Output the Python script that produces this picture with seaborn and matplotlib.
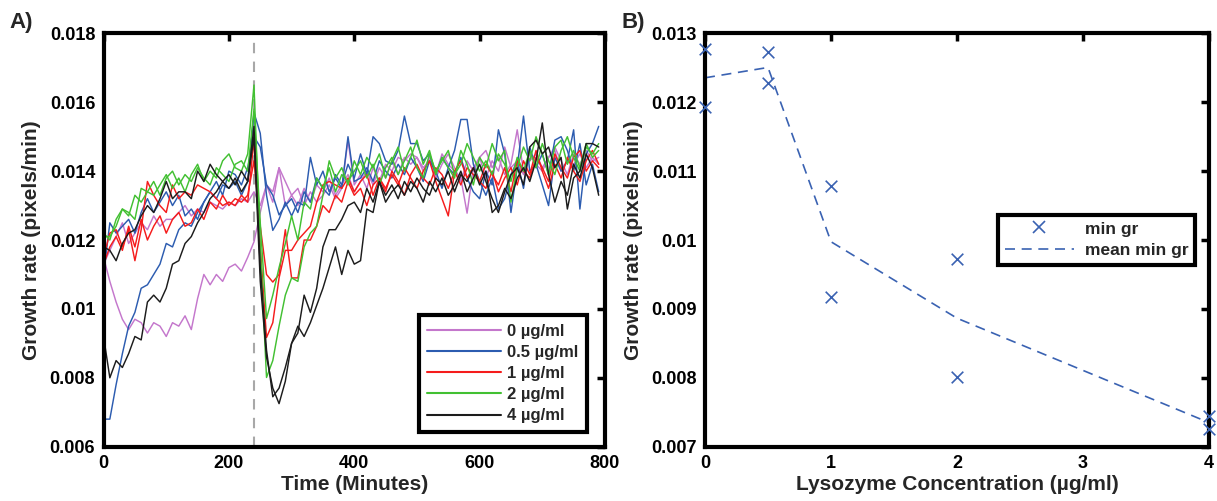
import matplotlib
matplotlib.use("Agg")
import matplotlib.pyplot as plt
import matplotlib.ticker as mticker
from matplotlib.lines import Line2D
import numpy as np
import pandas as pd
import seaborn as sns

# ---------------- data ----------------
time_min = list(range(0, 800, 10))
conc_labels = ["0 µg/ml", "0.5 µg/ml", "1 µg/ml", "2 µg/ml", "4 µg/ml"]
line_colors = ["#c477cc", "#2c5cb0", "#f51c1c", "#42c032", "#1c1c1c"]

rate_0_a = [0.0115,0.0108,0.0102,0.0097,0.0094,0.0097,0.0096,0.0093,0.0096,0.0095,
            0.0092,0.0096,0.0095,0.0098,0.0094,0.0103,0.0110,0.0107,0.0110,0.0108,
            0.0112,0.0113,0.0111,0.0115,0.01195,0.0128,0.0136,0.0131,0.0141,0.0130,
            0.0133,0.0130,0.0135,0.0131,0.0136,0.0134,0.0138,0.0133,0.0136,0.0139,
            0.0134,0.0137,0.0140,0.0136,0.0141,0.0138,0.0143,0.0139,0.0144,0.0142,
            0.0144,0.0140,0.0144,0.0138,0.0142,0.0145,0.0141,0.0137,0.0143,0.0140,
            0.0144,0.0146,0.0141,0.0144,0.0139,0.0142,0.0152,0.0140,0.0143,0.0145,
            0.0141,0.0144,0.0147,0.0143,0.0139,0.0145,0.0142,0.0146,0.0143,0.0144]
rate_0_b = [0.0113,0.0117,0.0121,0.0125,0.0119,0.0122,0.0125,0.0123,0.0127,0.0124,
            0.0126,0.0126,0.0128,0.0130,0.0127,0.0129,0.0128,0.0131,0.0130,0.0129,
            0.0131,0.0130,0.0132,0.0131,0.0134,0.0130,0.0136,0.0134,0.0141,0.0137,
            0.0133,0.0135,0.0130,0.0134,0.0131,0.0133,0.0136,0.0132,0.0135,0.0149,
            0.0136,0.0139,0.0135,0.0141,0.0137,0.0142,0.0140,0.0144,0.0143,0.0145,
            0.0144,0.0141,0.0143,0.0139,0.0145,0.0142,0.0140,0.0138,0.01278,0.0141,
            0.0144,0.0138,0.0143,0.0140,0.0147,0.0141,0.0143,0.0139,0.0145,0.0142,
            0.0140,0.0144,0.0146,0.0140,0.0143,0.0142,0.0145,0.0141,0.0144,0.0142]
rate_05_a = [0.0068,0.0068,0.0078,0.0087,0.0095,0.0099,0.0106,0.0107,0.0110,0.0113,
             0.0119,0.0118,0.0123,0.0125,0.0124,0.0128,0.0131,0.0134,0.0132,0.0136,
             0.0135,0.0137,0.0133,0.0137,0.0157,0.0151,0.0133,0.01228,0.0126,0.0131,
             0.0127,0.0131,0.0130,0.0144,0.0136,0.0140,0.0134,0.0138,0.0135,0.0150,
             0.0137,0.0138,0.0141,0.0137,0.0143,0.0140,0.0138,0.0142,0.0139,0.0144,
             0.0141,0.0137,0.0143,0.0140,0.0135,0.0141,0.0139,0.0144,0.0138,0.0134,
             0.0132,0.0140,0.0136,0.0152,0.0145,0.0128,0.0141,0.0156,0.0140,0.0142,
             0.0136,0.0130,0.0144,0.0140,0.0143,0.0152,0.0129,0.0145,0.0148,0.0153]
rate_05_b = [0.0110,0.0125,0.0122,0.0124,0.0126,0.0122,0.0128,0.0132,0.0128,0.0131,
             0.0134,0.0130,0.0133,0.0127,0.0129,0.0126,0.0131,0.0134,0.0137,0.0133,
             0.0140,0.0139,0.0136,0.0141,0.0150,0.0147,0.0136,0.0133,0.01273,0.0130,
             0.0132,0.0128,0.0134,0.0131,0.0138,0.0135,0.0133,0.0139,0.0136,0.0142,
             0.0138,0.0145,0.0139,0.0150,0.0148,0.0143,0.0142,0.0146,0.0156,0.0148,
             0.0148,0.0143,0.0145,0.0139,0.0144,0.0141,0.0146,0.0155,0.0155,0.0142,
             0.0137,0.0133,0.0138,0.0129,0.0132,0.0139,0.0143,0.0135,0.0147,0.0141,
             0.0145,0.0139,0.0149,0.0150,0.0146,0.0140,0.0148,0.0136,0.0142,0.0134]
rate_1_a = [0.0115,0.0122,0.0123,0.0118,0.0123,0.0114,0.0123,0.0137,0.0133,0.0130,
            0.0128,0.0136,0.0132,0.0134,0.0133,0.0136,0.0135,0.0134,0.0132,0.0130,
            0.0131,0.0130,0.0133,0.0131,0.0149,0.0118,0.00917,0.0096,0.0109,0.0117,
            0.0117,0.0120,0.0122,0.0124,0.0131,0.0136,0.0137,0.0136,0.0135,0.0138,
            0.0134,0.0137,0.0139,0.0133,0.0138,0.0135,0.0139,0.0136,0.0141,0.0138,
            0.0135,0.0140,0.0143,0.0137,0.0132,0.0127,0.0140,0.0136,0.0141,0.0139,
            0.0137,0.0142,0.0139,0.0136,0.0141,0.0134,0.0143,0.0140,0.0138,0.0144,
            0.0141,0.0137,0.0145,0.0141,0.0138,0.0144,0.0146,0.0140,0.0143,0.0141]
rate_1_b = [0.0113,0.0118,0.0121,0.0117,0.0124,0.0118,0.0126,0.0120,0.0124,0.0127,
            0.0122,0.0126,0.0128,0.0124,0.0125,0.0129,0.0126,0.0131,0.0129,0.0133,
            0.0130,0.0132,0.0131,0.0133,0.0143,0.0124,0.0110,0.01078,0.0110,0.0123,
            0.0109,0.0109,0.0120,0.0120,0.0124,0.0130,0.0128,0.0133,0.0131,0.0137,
            0.0133,0.0135,0.0130,0.0136,0.0138,0.0134,0.0140,0.0137,0.0133,0.0139,
            0.0142,0.0138,0.0136,0.0141,0.0139,0.0135,0.0140,0.0143,0.0138,0.0141,
            0.0137,0.0135,0.0140,0.0134,0.0138,0.0141,0.0136,0.0143,0.0139,0.0146,
            0.0140,0.0135,0.0142,0.0138,0.0144,0.0140,0.0137,0.0143,0.0146,0.0142]
rate_2_a = [0.0121,0.0121,0.0124,0.0129,0.0128,0.0126,0.0135,0.0134,0.0133,0.0136,
            0.0139,0.0135,0.0138,0.0134,0.0139,0.0142,0.0137,0.0140,0.0138,0.0143,
            0.0145,0.0141,0.0140,0.0145,0.0165,0.0118,0.00801,0.0085,0.0095,0.0104,
            0.0109,0.0108,0.0118,0.0122,0.0124,0.0133,0.0143,0.0138,0.0141,0.0136,
            0.0143,0.0139,0.0144,0.0141,0.0145,0.0138,0.0143,0.0147,0.0140,0.0144,
            0.0149,0.0142,0.0146,0.0139,0.0144,0.0141,0.0138,0.0146,0.0142,0.0136,
            0.0144,0.0141,0.0148,0.0143,0.0146,0.0131,0.0141,0.0147,0.0143,0.0150,
            0.0145,0.0139,0.0147,0.0149,0.0142,0.0146,0.0141,0.0148,0.0144,0.0146]
rate_2_b = [0.0122,0.0120,0.0126,0.0129,0.0127,0.0133,0.0131,0.0134,0.0137,0.0133,
            0.0138,0.0140,0.0136,0.0139,0.0137,0.0141,0.0138,0.0136,0.0141,0.0139,
            0.0137,0.0142,0.0143,0.0140,0.0158,0.0125,0.00972,0.0104,0.0112,0.0119,
            0.0127,0.0120,0.0131,0.0129,0.0138,0.0135,0.0141,0.0134,0.0139,0.0137,
            0.0140,0.0143,0.0138,0.0142,0.0136,0.0141,0.0144,0.0139,0.0143,0.0147,
            0.0141,0.0138,0.0145,0.0140,0.0143,0.0146,0.0139,0.0142,0.0148,0.0144,
            0.0140,0.0143,0.0139,0.0145,0.0142,0.0137,0.0144,0.0140,0.0146,0.0141,
            0.0148,0.0143,0.0139,0.0146,0.0150,0.0144,0.0140,0.0147,0.0145,0.0148]
rate_4_a = [0.0092,0.0080,0.0085,0.0083,0.0087,0.0092,0.0091,0.0102,0.0104,0.0102,
            0.0106,0.0113,0.0114,0.0119,0.0121,0.0125,0.0128,0.0132,0.0134,0.0137,
            0.0135,0.0138,0.0134,0.0137,0.0150,0.0108,0.0086,0.0077,0.00725,0.0079,
            0.0090,0.0093,0.0104,0.0099,0.0106,0.0118,0.0123,0.0123,0.0126,0.0130,
            0.0131,0.0128,0.0135,0.0131,0.0137,0.0133,0.0136,0.0132,0.0137,0.0134,
            0.0138,0.0135,0.0133,0.0138,0.0136,0.0140,0.0134,0.0139,0.0137,0.0141,
            0.0136,0.0140,0.0128,0.0130,0.0135,0.0132,0.0138,0.0141,0.0137,0.0143,
            0.0154,0.0139,0.0131,0.0137,0.0133,0.0142,0.0138,0.0145,0.0141,0.0133]
rate_4_b = [0.0118,0.0117,0.0114,0.0119,0.0122,0.0123,0.0127,0.0130,0.0128,0.0132,
            0.0137,0.0132,0.0134,0.0134,0.0132,0.0140,0.0137,0.0142,0.0139,0.0137,
            0.0139,0.0136,0.0140,0.0137,0.0153,0.0112,0.0088,0.00745,0.0077,0.0083,
            0.0090,0.0095,0.0092,0.0096,0.0101,0.0106,0.0112,0.0118,0.0110,0.0117,
            0.0113,0.0114,0.0129,0.0128,0.0137,0.0131,0.0134,0.0136,0.0133,0.0137,
            0.0135,0.0131,0.0137,0.0134,0.0138,0.0133,0.0136,0.0140,0.0134,0.0138,
            0.0142,0.0137,0.0132,0.0128,0.0134,0.0139,0.0141,0.0136,0.0147,0.0149,
            0.0145,0.0147,0.0141,0.0144,0.0129,0.0138,0.0140,0.0148,0.0148,0.0147]

series_by_conc = {
    "0 µg/ml": [rate_0_a, rate_0_b],
    "0.5 µg/ml": [rate_05_a, rate_05_b],
    "1 µg/ml": [rate_1_a, rate_1_b],
    "2 µg/ml": [rate_2_a, rate_2_b],
    "4 µg/ml": [rate_4_a, rate_4_b],
}

# Panel B data
lysozyme_conc = [0, 0, 0.5, 0.5, 1, 1, 2, 2, 4, 4]
min_gr = [0.01278, 0.01193, 0.01273, 0.01228, 0.01078, 0.00917,
          0.00972, 0.00801, 0.00745, 0.00725]

A_xticks = [0, 200, 400, 600, 800]
A_yticks = [0.006, 0.008, 0.010, 0.012, 0.014, 0.016, 0.018]
B_xticks = [0, 1, 2, 3, 4]
B_yticks = [0.007, 0.008, 0.009, 0.010, 0.011, 0.012, 0.013]

# ---------------- style ----------------
sns.set_style("white")
plt.rcParams["font.family"] = ["Liberation Sans", "DejaVu Sans"]
plt.rcParams["font.weight"] = "bold"
plt.rcParams["axes.labelweight"] = "bold"

rows = []
for conc, reps in series_by_conc.items():
    for r, vals in enumerate(reps):
        for t, v in zip(time_min, vals):
            rows.append({"time": t, "rate": v, "conc": conc, "rep": r})
df_a = pd.DataFrame(rows)
df_b = pd.DataFrame({"conc": lysozyme_conc, "min_gr": min_gr})

fig = plt.figure(figsize=(12.17, 5.01), dpi=100)
ax_a = fig.add_axes([0.0851, 0.1084, 0.412, 0.825])
ax_b = fig.add_axes([0.5793, 0.1084, 0.4141, 0.825])

palette = dict(zip(conc_labels, line_colors))

ax_a.axvline(240, color="#a8a8a8", ls=(0, (5, 4)), lw=1.5, zorder=0)
sns.lineplot(data=df_a, x="time", y="rate", hue="conc", units="rep",
             estimator=None, hue_order=conc_labels, palette=palette,
             lw=1.05, legend=False, ax=ax_a)

blue_b = "#3a62b2"
sns.lineplot(data=df_b, x="conc", y="min_gr", estimator="mean", errorbar=None,
             color=blue_b, linestyle=(0, (6, 4)), lw=1.2, ax=ax_b)
sns.scatterplot(data=df_b, x="conc", y="min_gr", marker="x", color=blue_b,
                s=70, linewidth=1.2, ax=ax_b, clip_on=False, zorder=5)

fmt = mticker.FuncFormatter(lambda v, p: f"{v:g}")
for ax in (ax_a, ax_b):
    for s in ax.spines.values():
        s.set_linewidth(3.0)
        s.set_color("black")
    ax.tick_params(direction="in", length=6, width=2.5, top=True, right=True,
                   labelsize=13, pad=6, colors="black")
    ax.yaxis.set_major_formatter(fmt)
    ax.xaxis.set_major_formatter(fmt)
    ax.set_ylabel("Growth rate (pixels/min)", fontsize=15, fontweight="bold", labelpad=6)

ax_a.set_xlim(0, 800)
ax_a.set_ylim(0.006, 0.018)
ax_a.set_xticks(A_xticks)
ax_a.set_yticks(A_yticks)
ax_a.set_xlabel("Time (Minutes)", fontsize=15, fontweight="bold", labelpad=2)

ax_b.set_xlim(0, 4)
ax_b.set_ylim(0.007, 0.013)
ax_b.set_xticks(B_xticks)
ax_b.set_yticks(B_yticks)
ax_b.set_xlabel("Lysozyme Concentration (µg/ml)", fontsize=15, fontweight="bold", labelpad=2)

handles_a = [Line2D([], [], color=c, lw=1.5) for c in line_colors]
leg_a = ax_a.legend(handles_a, conc_labels, loc="lower right",
                    bbox_to_anchor=(0.964, 0.036), borderaxespad=0,
                    fancybox=False, framealpha=1, edgecolor="black",
                    prop={"size": 12, "weight": "bold"}, handlelength=4.4,
                    handletextpad=0.4, labelspacing=0.37, borderpad=0.5)
leg_a.get_frame().set_linewidth(3.0)

handles_b = [Line2D([], [], color=blue_b, marker="x", ls="none", markersize=9, mew=1.2),
             Line2D([], [], color=blue_b, ls=(0, (6, 4)), lw=1.2)]
leg_b = ax_b.legend(handles_b, ["min gr", "mean min gr"], loc="upper right",
                    bbox_to_anchor=(0.972, 0.561), borderaxespad=0,
                    fancybox=False, framealpha=1, edgecolor="black",
                    prop={"size": 12.5, "weight": "bold"}, handlelength=4.0,
                    handletextpad=0.6, labelspacing=0.38, borderpad=0.38)
leg_b.get_frame().set_linewidth(3.0)

fig.text(0.008, 0.955, "A)", fontsize=16, fontweight="bold", ha="left", va="center")
fig.text(0.511, 0.955, "B)", fontsize=16, fontweight="bold", ha="left", va="center")

fig.savefig("out.png", dpi=100, facecolor="white")
